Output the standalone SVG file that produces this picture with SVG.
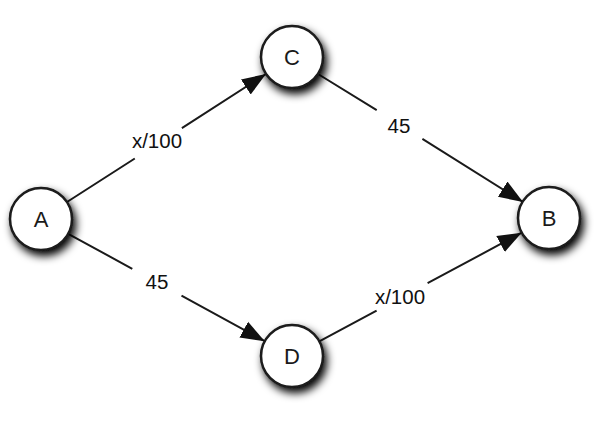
<svg xmlns="http://www.w3.org/2000/svg" width="606" height="424" viewBox="0 0 606 424">
<style>
.node circle{fill:#fff;stroke:#1a1a1a;stroke-width:2.5;filter:url(#sh)}
.node text{font-family:"Liberation Sans",Arial,sans-serif;font-size:22px;fill:#1a1a1a;text-anchor:middle}
.lbl{font-family:"Liberation Sans",Arial,sans-serif;font-size:20.5px;fill:#111;text-anchor:middle}
.edge{fill:none;stroke:#1a1a1a;stroke-width:2;marker-end:url(#arr)}
</style>
<defs>
<filter id="sh" x="-50%" y="-50%" width="200%" height="200%">
<feGaussianBlur in="SourceAlpha" stdDeviation="4"/>
<feOffset dx="3" dy="5" result="b"/>
<feComponentTransfer><feFuncA type="linear" slope="1"/></feComponentTransfer>
<feMerge><feMergeNode/><feMergeNode in="SourceGraphic"/></feMerge>
</filter>
<marker id="arr" markerUnits="userSpaceOnUse" markerWidth="26" markerHeight="20" refX="24" refY="10" orient="auto">
<path d="M0,1 L24,10 L0,19 Z" fill="#111"/>
</marker>
</defs>
<g id="connectors">
<path class="edge" d="M67,202 L134.8,158.5 M181.9,128.1 L266,74"/>
<path class="edge" d="M318,74 L376.7,110.1 M422.4,138.8 L523,202"/>
<path class="edge" d="M68.2,233.8 L132.3,268.8 M181.5,295.7 L264.8,341.2"/>
<path class="edge" d="M319.3,341.3 L376.6,310.6 M427.6,283.2 L521.7,232.7"/>
<text class="lbl" x="157" y="148">x/100</text>
<text class="lbl" x="399" y="133">45</text>
<text class="lbl" x="157" y="289">45</text>
<text class="lbl" x="400" y="304">x/100</text>
</g>
<g id="A" class="node"><circle cx="41" cy="219" r="31"/><text x="41" y="227">A</text></g>
<g id="C" class="node"><circle cx="292" cy="57" r="31"/><text x="292" y="65">C</text></g>
<g id="B" class="node"><circle cx="549" cy="218" r="31"/><text x="549" y="226">B</text></g>
<g id="D" class="node"><circle cx="292" cy="356" r="31"/><text x="292" y="364">D</text></g>
</svg>
